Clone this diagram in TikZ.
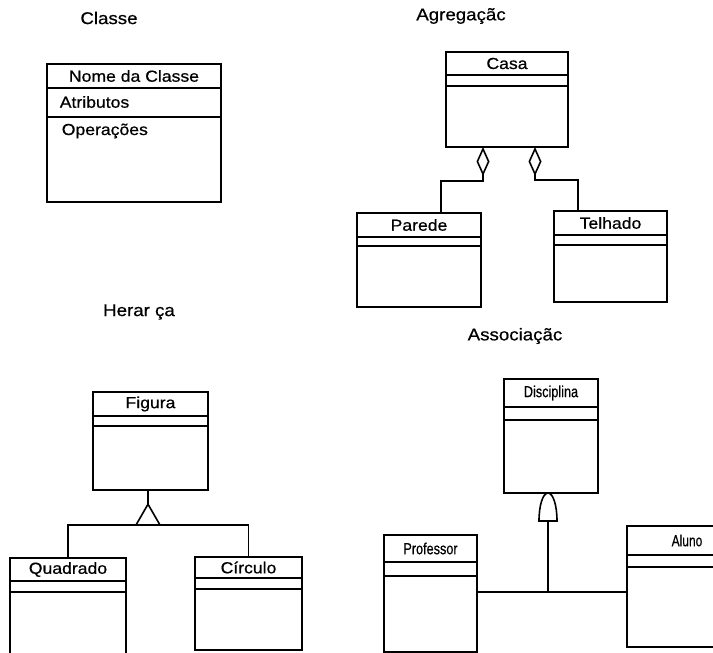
\documentclass[tikz,border=0pt]{standalone}
\usepackage{fontspec}
\setmainfont[FakeStretch=1.1, FakeBold=0.6]{Liberation Sans}
\usepackage{graphicx}
\usetikzlibrary{arrows.meta, calc, shapes.geometric}

% class box: name, x, y, width, height, title, first line, second line
\newcommand{\umlclass}[8]{%
  \node[classbox, minimum width=#4pt, minimum height=#5pt] (#1) at (#2,#3) {};
  \node[classname] (#1-name) at ($(#1.north)+(0,#7/2)$) {#6};
  \draw ($(#1.north west)+(0,#7)$) -- ($(#1.north east)+(0,#7)$);
  \draw ($(#1.north west)+(0,#8)$) -- ($(#1.north east)+(0,#8)$);
}
\newcommand{\narrow}[2][0.72]{\scalebox{#1}[1]{#2}}

\begin{document}
\begin{tikzpicture}[
    x=1pt, y=-1pt,
    line width=1.6pt,
    classbox/.style={
        rectangle,
        draw,
        anchor=north west,
        inner sep=0pt,
        outer sep=0pt
    },
    classname/.style={font=\fontsize{16}{19}\selectfont, inner sep=0pt},
    heading/.style={font=\fontsize{17}{20}\selectfont, inner sep=0pt},
    agg/.style={{Diamond[open, length=29pt, width=13pt]}-},
    gen/.style={
        regular polygon,
        regular polygon sides=3,
        draw,
        minimum size=27.7pt,
        inner sep=0pt,
        outer sep=0pt,
        anchor=side 2
    }
]
\useasboundingbox (0,0) rectangle (713,653);
\clip (0,0) rectangle (713,653);

% Classe
\node[heading] (t-classe) at (109,18) {Classe};
\umlclass{classe}{47}{64}{174}{138}{Nome da Classe}{24}{53}
\node[classname, anchor=west] (atributos) at (59,102) {Atributos};
\node[classname, anchor=west] (operacoes) at (61,131) {Operações};

% Agregacao
\node[heading] (t-agregacao) at (461,16) {Agregaçãc};
\umlclass{casa}{446}{52}{122}{95}{Casa}{23}{34}
\umlclass{parede}{357}{213}{124}{94}{Parede}{24}{33}
\umlclass{telhado}{554}{211}{113}{91}{Telhado}{24}{34}
\coordinate (parede-in) at (441,213);
\coordinate (telhado-in) at (578,211);
\draw[agg] ([xshift=-24pt]casa.south) -- ++(0,34) -| (parede-in);
\draw[agg] ([xshift=28pt]casa.south) -- ++(0,33) -| (telhado-in);

% Heranca
\node[heading] (t-heranca) at (139,312) {Herar ça};
\umlclass{figura}{93}{392}{115}{98}{Figura}{24}{34}
\umlclass{quadrado}{10}{558}{116}{110}{Quadrado}{23}{34}
\umlclass{circulo}{195}{557}{107}{93}{Círculo}{21}{32}
\node[gen] (gen) at (148,525) {};
\draw (figura.south -| gen.corner 1) -- (gen.corner 1);
\draw (quadrado.north) -- (quadrado.north |- gen.side 2) -- (circulo.north |- gen.side 2) -- (circulo.north);

% Associacao
\node[heading] (t-associacao) at (515,336) {Associaçãc};
\umlclass{disciplina}{504}{379}{94}{114}{\narrow{Disciplina}}{28}{41}
\umlclass{professor}{384}{535}{93}{117}{\narrow{Professor}}{27}{41}
\umlclass{aluno}{627}{526}{120}{121}{\narrow[0.68]{Aluno}}{29}{41}
\coordinate (dome) at (548,521);
\coordinate (assoc) at (548,592);
\draw (539,521) .. controls (539,505) and (543,493) .. (548,493)
      .. controls (553,493) and (557,505) .. (557,521) -- cycle;
\draw (dome) -- (assoc);
\draw (professor.east |- assoc) -- (aluno.west |- assoc);

\end{tikzpicture}
\end{document}
